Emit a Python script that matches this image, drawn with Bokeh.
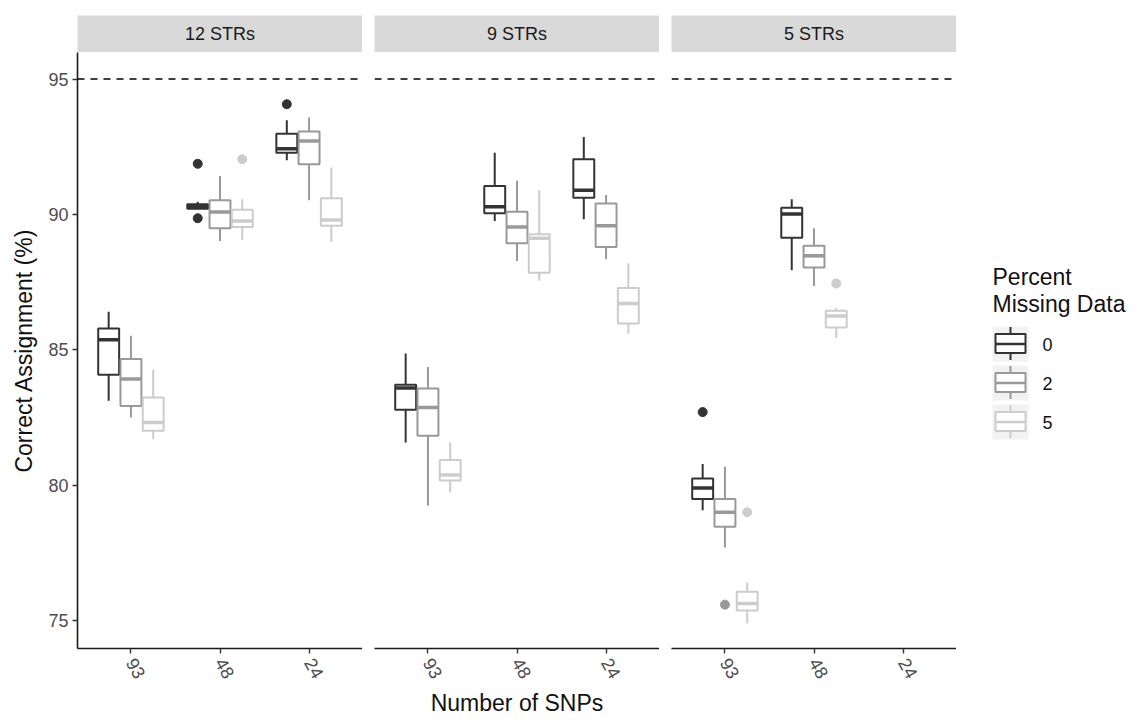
import math
import numpy as np
import pandas as pd
from bokeh.plotting import figure
from bokeh.layouts import row, column
from bokeh.models import Range1d, FixedTicker, Span, ColumnDataSource
from bokeh.core.properties import value
from bokeh.embed import file_html
from bokeh.resources import INLINE

# ---------------- data ----------------
panels = ["12 STRs", "9 STRs", "5 STRs"]
snps = ["93", "48", "24"]
missing = ["0", "2", "5"]
miss_colors = ["#333333", "#999999", "#cccccc"]

box_panel = ["12 STRs"] * 9 + ["9 STRs"] * 9 + ["5 STRs"] * 6
box_snp = ["93", "93", "93", "48", "48", "48", "24", "24", "24"] * 2 + ["93", "93", "93", "48", "48", "48"]
box_miss = ["0", "2", "5"] * 8

w_low = [83.12, 82.50, 81.70, 90.19, 89.02, 89.05, 92.00, 90.52, 88.99,
         81.58, 79.24, 79.73, 89.76, 88.28, 87.55, 89.82, 88.35, 85.60,
         79.08, 77.70, 74.90, 87.94, 87.36, 85.44]
q1 = [84.08, 82.93, 82.01, 90.21, 89.49, 89.54, 92.28, 91.85, 89.58,
      82.79, 81.83, 80.17, 90.04, 88.94, 87.85, 90.62, 88.80, 85.97,
      79.49, 78.47, 75.37, 89.14, 88.04, 85.82]
med = [85.37, 83.92, 82.32, 90.30, 90.09, 89.76, 92.43, 92.71, 89.79,
       83.59, 82.87, 80.38, 90.28, 89.54, 89.12, 90.89, 89.58, 86.71,
       79.90, 79.00, 75.63, 90.02, 88.47, 86.25]
q3 = [85.79, 84.66, 83.24, 90.38, 90.52, 90.17, 92.98, 93.06, 90.60,
      83.71, 83.57, 80.93, 91.05, 90.10, 89.27, 92.04, 90.40, 87.28,
      80.25, 79.49, 76.07, 90.25, 88.84, 86.44]
w_high = [86.41, 85.52, 84.26, 90.47, 91.42, 90.56, 93.48, 93.58, 91.73,
          84.86, 84.37, 81.58, 92.28, 91.24, 90.89, 92.86, 90.72, 88.19,
          80.78, 80.68, 76.41, 90.56, 89.49, 86.55]

out_panel = ["12 STRs", "12 STRs", "12 STRs", "12 STRs", "5 STRs", "5 STRs", "5 STRs", "5 STRs"]
out_snp = ["48", "48", "48", "24", "93", "93", "93", "48"]
out_miss = ["0", "0", "5", "0", "0", "2", "5", "5"]
out_val = [91.87, 89.86, 92.04, 94.07, 82.70, 75.59, 79.00, 87.45]

y_ticks = [75, 80, 85, 90, 95]
ref_line = 95

# ---------------- frames ----------------
df = pd.DataFrame(dict(panel=box_panel, snp=box_snp, miss=box_miss,
                       lo=w_low, q1=q1, med=med, q3=q3, hi=w_high))
df["x"] = [snps.index(s) + 1 + (missing.index(m) - 1) * 0.25 for s, m in zip(df.snp, df.miss)]
df["color"] = [miss_colors[missing.index(m)] for m in df.miss]

od = pd.DataFrame(dict(panel=out_panel, snp=out_snp, miss=out_miss, val=out_val))
od["x"] = [snps.index(s) + 1 + (missing.index(m) - 1) * 0.25 for s, m in zip(od.snp, od.miss)]
od["color"] = [miss_colors[missing.index(m)] for m in od.miss]

FONT = "Liberation Sans"
BW = 0.235


def make_panel(i, name):
    left = 77 if i == 0 else 12
    p = figure(frame_width=285, frame_height=596,
               x_range=Range1d(0.4, 3.6), y_range=Range1d(73.97, 95.98),
               output_backend="svg", toolbar_location=None,
               min_border_left=left, min_border_right=0,
               min_border_top=0, min_border_bottom=76)
    p.grid.visible = False
    p.outline_line_color = None
    p.background_fill_color = "white"
    p.border_fill_color = "white"

    p.add_layout(Span(location=ref_line, dimension="width", line_color="black",
                      line_width=1.5, line_dash="7 6"))

    sub = df[df.panel == name]
    src = ColumnDataSource(sub)
    p.segment(x0="x", x1="x", y0="q3", y1="hi", source=src, line_color="color", line_width=2)
    p.segment(x0="x", x1="x", y0="lo", y1="q1", source=src, line_color="color", line_width=2)
    p.vbar(x="x", width=BW, top="q3", bottom="q1", source=src,
           fill_color="white", line_color="color", line_width=2)
    sub2 = sub.copy()
    sub2["x0"] = sub2.x - BW / 2
    sub2["x1"] = sub2.x + BW / 2
    p.segment(x0="x0", x1="x1", y0="med", y1="med", source=ColumnDataSource(sub2),
              line_color="color", line_width=3.5)

    osub = od[od.panel == name]
    if len(osub):
        p.scatter(x="x", y="val", source=ColumnDataSource(osub), size=9,
                  fill_color="color", line_color="color")

    # x axis
    xa = p.xaxis[0]
    xa.ticker = FixedTicker(ticks=[1, 2, 3])
    xa.major_label_overrides = {1: snps[0], 2: snps[1], 3: snps[2]}
    xa.major_label_orientation = -1.05
    xa.minor_tick_line_color = None
    xa.major_tick_in = 0
    xa.major_tick_out = 5
    xa.axis_line_color = "#1a1a1a"
    xa.axis_line_width = 1.6
    xa.major_tick_line_color = "#333333"
    xa.major_tick_line_width = 1.4
    xa.major_label_text_font = FONT
    xa.major_label_text_font_size = "18px"
    xa.major_label_text_color = "#4d4d4d"
    xa.major_label_standoff = 6
    if i == 1:
        xa.axis_label = "Number of SNPs"
        xa.axis_label_text_font = FONT
        xa.axis_label_text_font_size = "23px"
        xa.axis_label_text_font_style = "normal"
        xa.axis_label_text_color = "#111111"
        xa.axis_label_standoff = 4

    ya = p.yaxis[0]
    if i == 0:
        ya.ticker = FixedTicker(ticks=y_ticks)
        ya.minor_tick_line_color = None
        ya.major_tick_in = 0
        ya.major_tick_out = 5
        ya.axis_line_color = "#1a1a1a"
        ya.axis_line_width = 1.6
        ya.major_tick_line_color = "#333333"
        ya.major_tick_line_width = 1.4
        ya.major_label_text_font = FONT
        ya.major_label_text_font_size = "18px"
        ya.major_label_text_color = "#4d4d4d"
        ya.major_label_standoff = 4
        ya.axis_label = "Correct Assignment (%)"
        ya.axis_label_text_font = FONT
        ya.axis_label_text_font_size = "23px"
        ya.axis_label_text_font_style = "normal"
        ya.axis_label_text_color = "#111111"
        ya.axis_label_standoff = 8
    else:
        ya.visible = False
    return p


def make_strip(i, name):
    left = 77 if i == 0 else 12
    s = figure(frame_width=285, frame_height=37,
               x_range=Range1d(0, 1), y_range=Range1d(0, 1),
               output_backend="svg", toolbar_location=None,
               min_border_left=left, min_border_right=0,
               min_border_top=15, min_border_bottom=0)
    s.axis.visible = False
    s.grid.visible = False
    s.outline_line_color = None
    s.background_fill_color = "#d9d9d9"
    s.border_fill_color = "white"
    s.text(x=[0.5], y=[0.5], text=[name], text_align="center", text_baseline="middle",
           text_font=value(FONT), text_font_size="18px", text_color="#1a1a1a")
    return s


cols = []
for i, name in enumerate(panels):
    cols.append(column(make_strip(i, name), make_panel(i, name), spacing=0))

# ---------------- legend ----------------
leg = figure(frame_width=187, frame_height=724, x_range=Range1d(956, 1143),
             y_range=Range1d(724, 0), output_backend="svg", toolbar_location=None,
             min_border_left=0, min_border_right=0, min_border_top=0, min_border_bottom=0)
leg.axis.visible = False
leg.grid.visible = False
leg.outline_line_color = None
leg.background_fill_color = "white"
leg.border_fill_color = "white"

leg.text(x=[992, 992], y=[276, 303], text=["Percent", "Missing Data"],
         text_align="left", text_baseline="middle", text_font=value(FONT),
         text_font_size="23px", text_color="#111111")
key_cy = [343.5, 382.5, 421.5]
leg.quad(left=[992] * 3, right=[1028] * 3, top=[c - 17.5 for c in key_cy],
         bottom=[c + 17.5 for c in key_cy], fill_color="#f2f2f2", line_color=None)
leg.segment(x0=[1010] * 3, x1=[1010] * 3, y0=[c - 17 for c in key_cy], y1=[c + 16 for c in key_cy],
            line_color=miss_colors, line_width=2)
leg.quad(left=[995] * 3, right=[1025] * 3, top=[c - 10 for c in key_cy],
         bottom=[c + 9 for c in key_cy], fill_color="white", line_color=miss_colors, line_width=2)
leg.segment(x0=[995] * 3, x1=[1025] * 3, y0=key_cy, y1=key_cy, line_color=miss_colors, line_width=2.5)
leg.text(x=[1042] * 3, y=key_cy, text=missing, text_align="left", text_baseline="middle",
         text_font=value(FONT), text_font_size="18px", text_color="#111111")

layout = row(*cols, leg, spacing=0)

open("out.html", "w").write(file_html(layout, INLINE))
